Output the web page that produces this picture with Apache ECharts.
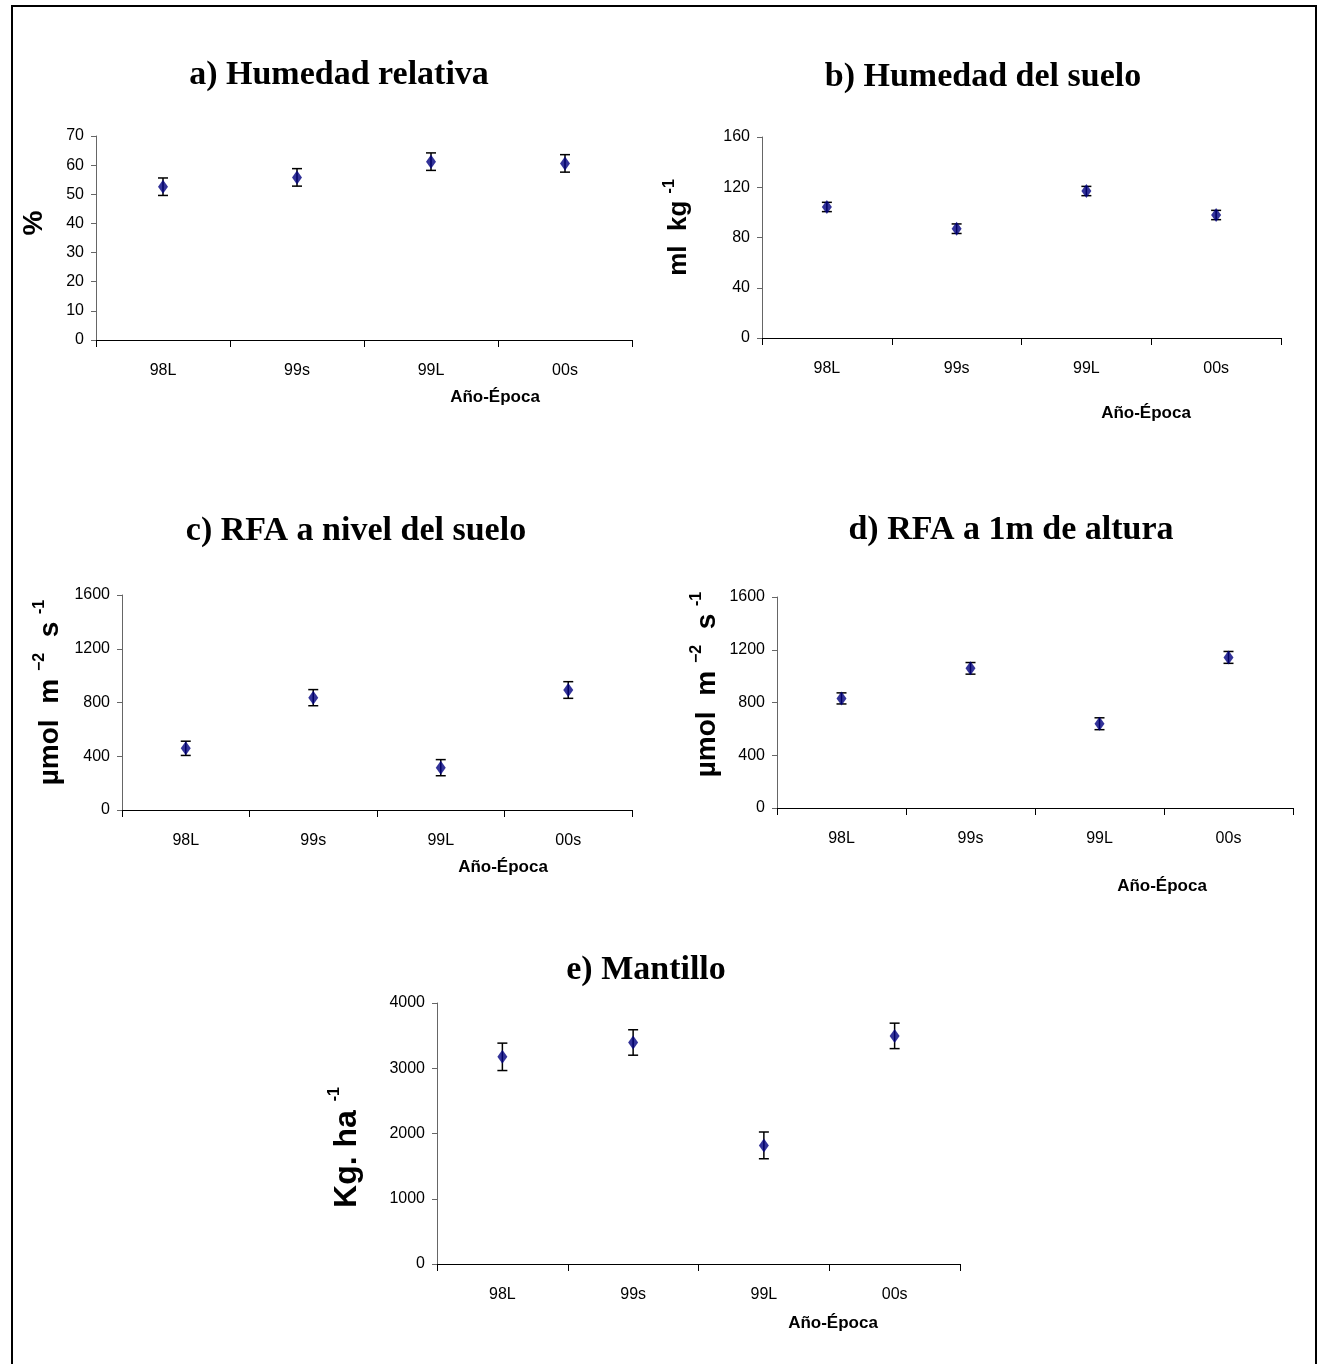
<!DOCTYPE html>
<html><head><meta charset="utf-8">
<script src="https://cdn.jsdelivr.net/npm/echarts@6/dist/echarts.min.js"></script>
<style>html,body{margin:0;padding:0;background:#fff}#c{width:1325px;height:1364px}</style>
</head><body><div id="c"></div>
<script>
const categories = ['98L', '99s', '99L', '00s'];
const humRel = [52.6, 55.8, 61.2, 60.6];
const humRelErr = [3.0, 3.0, 3.0, 3.0];
const humSuelo = [104.3, 87.0, 117.0, 97.9];
const humSueloErr = [3.7, 3.8, 3.7, 3.7];
const rfaSuelo = [459, 836, 315, 893];
const rfaSueloErr = [53, 60, 60, 62];
const rfa1m = [831, 1059, 639, 1142];
const rfa1mErr = [42, 44, 45, 45];
const mantillo = [3175, 3395, 1818, 3496];
const mantilloErr = [210, 195, 205, 195];

const panels = [
  {title: 'a) Humedad relativa', vals: humRel, err: humRelErr, max: 70, interval: 10,
   grid: {left: 96, top: 136, width: 536, height: 204},
   name: '{b|%}', nameGap: 48, nameSize: 28, namePad: [0, 0, 0, 30],
   titlePos: [339, 75], xnamePos: [495, 397]},
  {title: 'b) Humedad del suelo', vals: humSuelo, err: humSueloErr, max: 160, interval: 40,
   grid: {left: 762, top: 137, width: 519, height: 201},
   name: '{b|ml  kg }{s|-1}', nameGap: 70, nameSize: 26, namePad: [0, 0, 0, 20],
   titlePos: [983, 77], xnamePos: [1146, 413]},
  {title: 'c) RFA a nivel del suelo', vals: rfaSuelo, err: rfaSueloErr, max: 1600, interval: 400,
   grid: {left: 122, top: 595, width: 510, height: 215},
   name: '{b|µmol  m }{s|−2}{b|  s }{s|-1}', nameGap: 58, nameSize: 28, namePad: [0, 0, 0, 20],
   titlePos: [356, 531], xnamePos: [503, 867]},
  {title: 'd) RFA a 1m de altura', vals: rfa1m, err: rfa1mErr, max: 1600, interval: 400,
   grid: {left: 777, top: 597, width: 516, height: 211},
   name: '{b|µmol  m }{s|−2}{b|  s }{s|-1}', nameGap: 56, nameSize: 28, namePad: [0, 0, 0, 36],
   titlePos: [1011, 530], xnamePos: [1162, 886]},
  {title: 'e) Mantillo', vals: mantillo, err: mantilloErr, max: 4000, interval: 1000,
   grid: {left: 437, top: 1003, width: 523, height: 261},
   name: '{b|Kg. ha }{s|-1}', nameGap: 74, nameSize: 32, namePad: [0, 28, 0, 0],
   titlePos: [646, 970], xnamePos: [833, 1323]}
];

function errRender(params, api) {
  const x = api.value(0);
  const lo = api.coord([x, api.value(1)]);
  const hi = api.coord([x, api.value(2)]);
  const w = 5;
  const st = {stroke: '#000', lineWidth: 1.5};
  return {type: 'group', children: [
    {type: 'line', shape: {x1: lo[0], y1: lo[1], x2: hi[0], y2: hi[1]}, style: st},
    {type: 'line', shape: {x1: lo[0] - w, y1: lo[1], x2: lo[0] + w, y2: lo[1]}, style: st},
    {type: 'line', shape: {x1: hi[0] - w, y1: hi[1], x2: hi[0] + w, y2: hi[1]}, style: st}
  ]};
}

const grids = [], xAxes = [], yAxes = [], series = [], graphics = [];
graphics.push({type: 'rect', shape: {x: 12, y: 6, width: 1304, height: 1362},
  style: {fill: 'none', stroke: '#000', lineWidth: 2}, z: 10});
panels.forEach((p, i) => {
  grids.push(Object.assign({containLabel: false}, p.grid));
  xAxes.push({type: 'category', gridIndex: i, data: categories, boundaryGap: true,
    axisLine: {lineStyle: {color: '#000', width: 1}},
    axisTick: {show: true, length: 7, lineStyle: {color: '#000'}},
    axisLabel: {color: '#000', fontSize: 16, fontFamily: 'Liberation Sans, Arial', margin: 23},
    splitLine: {show: false}});
  yAxes.push({type: 'value', gridIndex: i, min: 0, max: p.max, interval: p.interval,
    axisLine: {show: true, lineStyle: {color: '#666', width: 1}},
    axisTick: {show: true, length: 5, lineStyle: {color: '#666'}},
    axisLabel: {color: '#000', fontSize: 16, fontFamily: 'Liberation Sans, Arial', margin: 12,
      formatter: v => String(v)},
    splitLine: {show: false},
    name: p.name, nameLocation: 'middle', nameRotate: 90, nameGap: p.nameGap,
    nameTextStyle: {padding: p.namePad, rich: {
      b: {fontSize: p.nameSize, fontWeight: 'bold', fontFamily: 'Liberation Sans, Arial', color: '#000', lineHeight: p.nameSize + 4, verticalAlign: 'bottom'},
      s: {fontSize: 16, fontWeight: 'bold', fontFamily: 'Liberation Sans, Arial', color: '#000', lineHeight: 16, verticalAlign: 'top'}
    }}});
  series.push({type: 'custom', xAxisIndex: i, yAxisIndex: i, renderItem: errRender,
    data: p.vals.map((v, k) => [k, v - p.err[k], v + p.err[k]]), z: 2, silent: true});
  series.push({type: 'scatter', xAxisIndex: i, yAxisIndex: i, symbol: 'diamond', symbolSize: [10, 14],
    itemStyle: {color: '#000080'}, data: p.vals.map((v, k) => [k, v]), z: 3});
  graphics.push({type: 'text', x: p.titlePos[0], y: p.titlePos[1],
    style: {text: p.title, fontSize: 34, fontWeight: 'bold', fontFamily: 'Liberation Serif, Times New Roman',
      fill: '#000', align: 'center', verticalAlign: 'middle'}});
  graphics.push({type: 'text', x: p.xnamePos[0], y: p.xnamePos[1],
    style: {text: 'Año-Época', fontSize: 17, fontWeight: 'bold', fontFamily: 'Liberation Sans, Arial',
      fill: '#000', align: 'center', verticalAlign: 'middle'}});
});

const chart = echarts.init(document.getElementById('c'), null, {renderer: 'canvas'});
chart.setOption({animation: false, backgroundColor: '#fff', grid: grids, xAxis: xAxes, yAxis: yAxes,
  series: series, graphic: graphics});
</script></body></html>
